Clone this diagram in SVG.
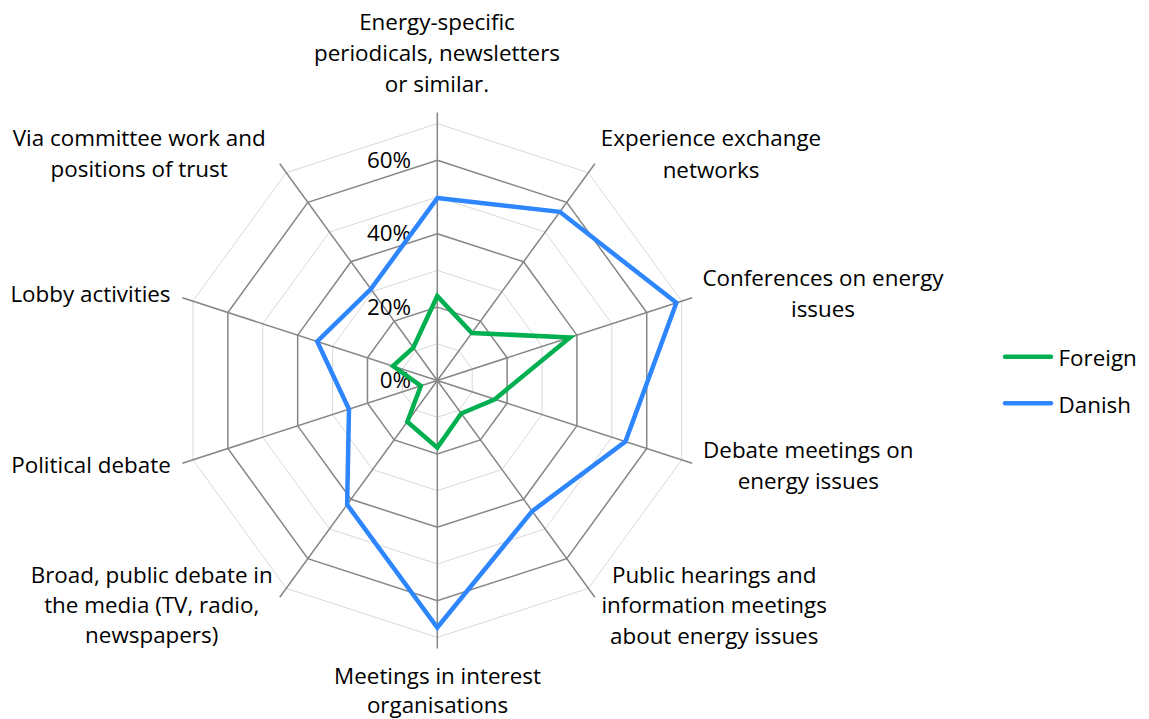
<svg xmlns="http://www.w3.org/2000/svg" width="1149" height="719" viewBox="0 0 1149 719">
<style>
text{font-family:"Open Sans","Liberation Sans",sans-serif;font-size:22.4px;fill:#000}
.lbl{text-anchor:middle}
.pct{text-anchor:end}
.minor{fill:none;stroke:#d9d9d9;stroke-width:1}
.major{fill:none;stroke:#868686;stroke-width:1.5}
.axis{stroke:#868686;stroke-width:1.5}
.ser{fill:none;stroke-width:4.5;stroke-linejoin:miter;stroke-miterlimit:10}
.foreign{stroke:#00b050}
.danish{stroke:#2e86ff}
.leg{stroke-width:4.5;stroke-linecap:round}
</style>
<rect width="1149" height="719" fill="#fff"/>
<g id="grid">
<polygon class="minor" points="437.3,343.8 458.87,350.81 472.21,369.16 472.21,391.84 458.87,410.19 437.3,417.2 415.73,410.19 402.39,391.84 402.39,369.16 415.73,350.81"/>
<polygon class="minor" points="437.3,270.4 502.02,291.43 542.02,346.48 542.02,414.52 502.02,469.57 437.3,490.6 372.58,469.57 332.58,414.52 332.58,346.48 372.58,291.43"/>
<polygon class="minor" points="437.3,197 545.16,232.05 611.83,323.8 611.83,437.2 545.16,528.95 437.3,564 329.44,528.95 262.77,437.2 262.77,323.8 329.44,232.05"/>
<polygon class="minor" points="437.3,123.6 588.31,172.67 681.64,301.12 681.64,459.88 588.31,588.33 437.3,637.4 286.29,588.33 192.96,459.88 192.96,301.12 286.29,172.67"/>
<polygon class="major" points="437.3,307.1 480.44,321.12 507.11,357.82 507.11,403.18 480.44,439.88 437.3,453.9 394.16,439.88 367.49,403.18 367.49,357.82 394.16,321.12"/>
<polygon class="major" points="437.3,233.7 523.59,261.74 576.92,335.14 576.92,425.86 523.59,499.26 437.3,527.3 351.01,499.26 297.68,425.86 297.68,335.14 351.01,261.74"/>
<polygon class="major" points="437.3,160.3 566.73,202.36 646.73,312.46 646.73,448.54 566.73,558.64 437.3,600.7 307.87,558.64 227.87,448.54 227.87,312.46 307.87,202.36"/>
</g>
<g id="axes">
<line class="axis" x1="437.3" y1="380.5" x2="437.3" y2="112.5"/>
<line class="axis" x1="437.3" y1="380.5" x2="594.83" y2="163.69"/>
<line class="axis" x1="437.3" y1="380.5" x2="692.19" y2="297.69"/>
<line class="axis" x1="437.3" y1="380.5" x2="692.19" y2="463.31"/>
<line class="axis" x1="437.3" y1="380.5" x2="594.83" y2="597.31"/>
<line class="axis" x1="437.3" y1="380.5" x2="437.3" y2="648.5"/>
<line class="axis" x1="437.3" y1="380.5" x2="279.77" y2="597.31"/>
<line class="axis" x1="437.3" y1="380.5" x2="182.41" y2="463.31"/>
<line class="axis" x1="437.3" y1="380.5" x2="182.41" y2="297.69"/>
<line class="axis" x1="437.3" y1="380.5" x2="279.77" y2="163.69"/>
</g>
<g id="scale-labels">
<text class="pct" x="411" y="167.7">60%</text>
<text class="pct" x="411" y="241.2">40%</text>
<text class="pct" x="411" y="314.7">20%</text>
<text class="pct" x="411" y="388.2">0%</text>
</g>
<g id="series-danish">
<polygon class="ser danish" points="437.3,198.1 559.85,211.82 676.4,302.82 625.43,441.62 532.23,511.15 437.3,627.5 347.13,504.6 348.99,409.19 317.22,341.49 370.86,289.05"/>
</g>
<g id="series-foreign">
<polygon class="ser foreign" points="437.3,296.09 471.82,333 569.94,337.41 494.9,399.21 461.25,413.46 437.3,447.66 407.32,421.77 420.89,385.83 392.97,366.1 413.35,347.54"/>
</g>
<g id="category-labels">
<g id="cat-periodicals"><text class="lbl" x="437" y="29.5">Energy-specific</text><text class="lbl" x="437" y="60.5">periodicals, newsletters</text><text class="lbl" x="437" y="91.5">or similar.</text></g>
<g id="cat-experience"><text class="lbl" x="711" y="146">Experience exchange</text><text class="lbl" x="711" y="177.5">networks</text></g>
<g id="cat-conferences"><text class="lbl" x="823" y="286">Conferences on energy</text><text class="lbl" x="823" y="316.7">issues</text></g>
<g id="cat-debate-meetings"><text class="lbl" x="808.3" y="458.3">Debate meetings on</text><text class="lbl" x="808.3" y="489">energy issues</text></g>
<g id="cat-hearings"><text class="lbl" x="714.2" y="582.7">Public hearings and</text><text class="lbl" x="714.2" y="613.3">information meetings</text><text class="lbl" x="714.2" y="644">about energy issues</text></g>
<g id="cat-interest"><text class="lbl" x="437.5" y="684">Meetings in interest</text><text class="lbl" x="437.5" y="713.3">organisations</text></g>
<g id="cat-media"><text class="lbl" x="151.7" y="582.7">Broad, public debate in</text><text class="lbl" x="151.7" y="613.3">the media (TV, radio,</text><text class="lbl" x="151.7" y="643.3">newspapers)</text></g>
<g id="cat-political"><text class="lbl" x="91" y="473.3">Political debate</text></g>
<g id="cat-lobby"><text class="lbl" x="90.5" y="301.7">Lobby activities</text></g>
<g id="cat-committee"><text class="lbl" x="139.2" y="145.7">Via committee work and</text><text class="lbl" x="139.2" y="176.7">positions of trust</text></g>
</g>
<g id="legend">
<line class="leg foreign" x1="1005" y1="356.7" x2="1051" y2="356.7"/>
<text x="1058.5" y="365.6">Foreign</text>
<line class="leg danish" x1="1005" y1="403.3" x2="1051" y2="403.3"/>
<text x="1058.5" y="412.7">Danish</text>
</g>
</svg>
